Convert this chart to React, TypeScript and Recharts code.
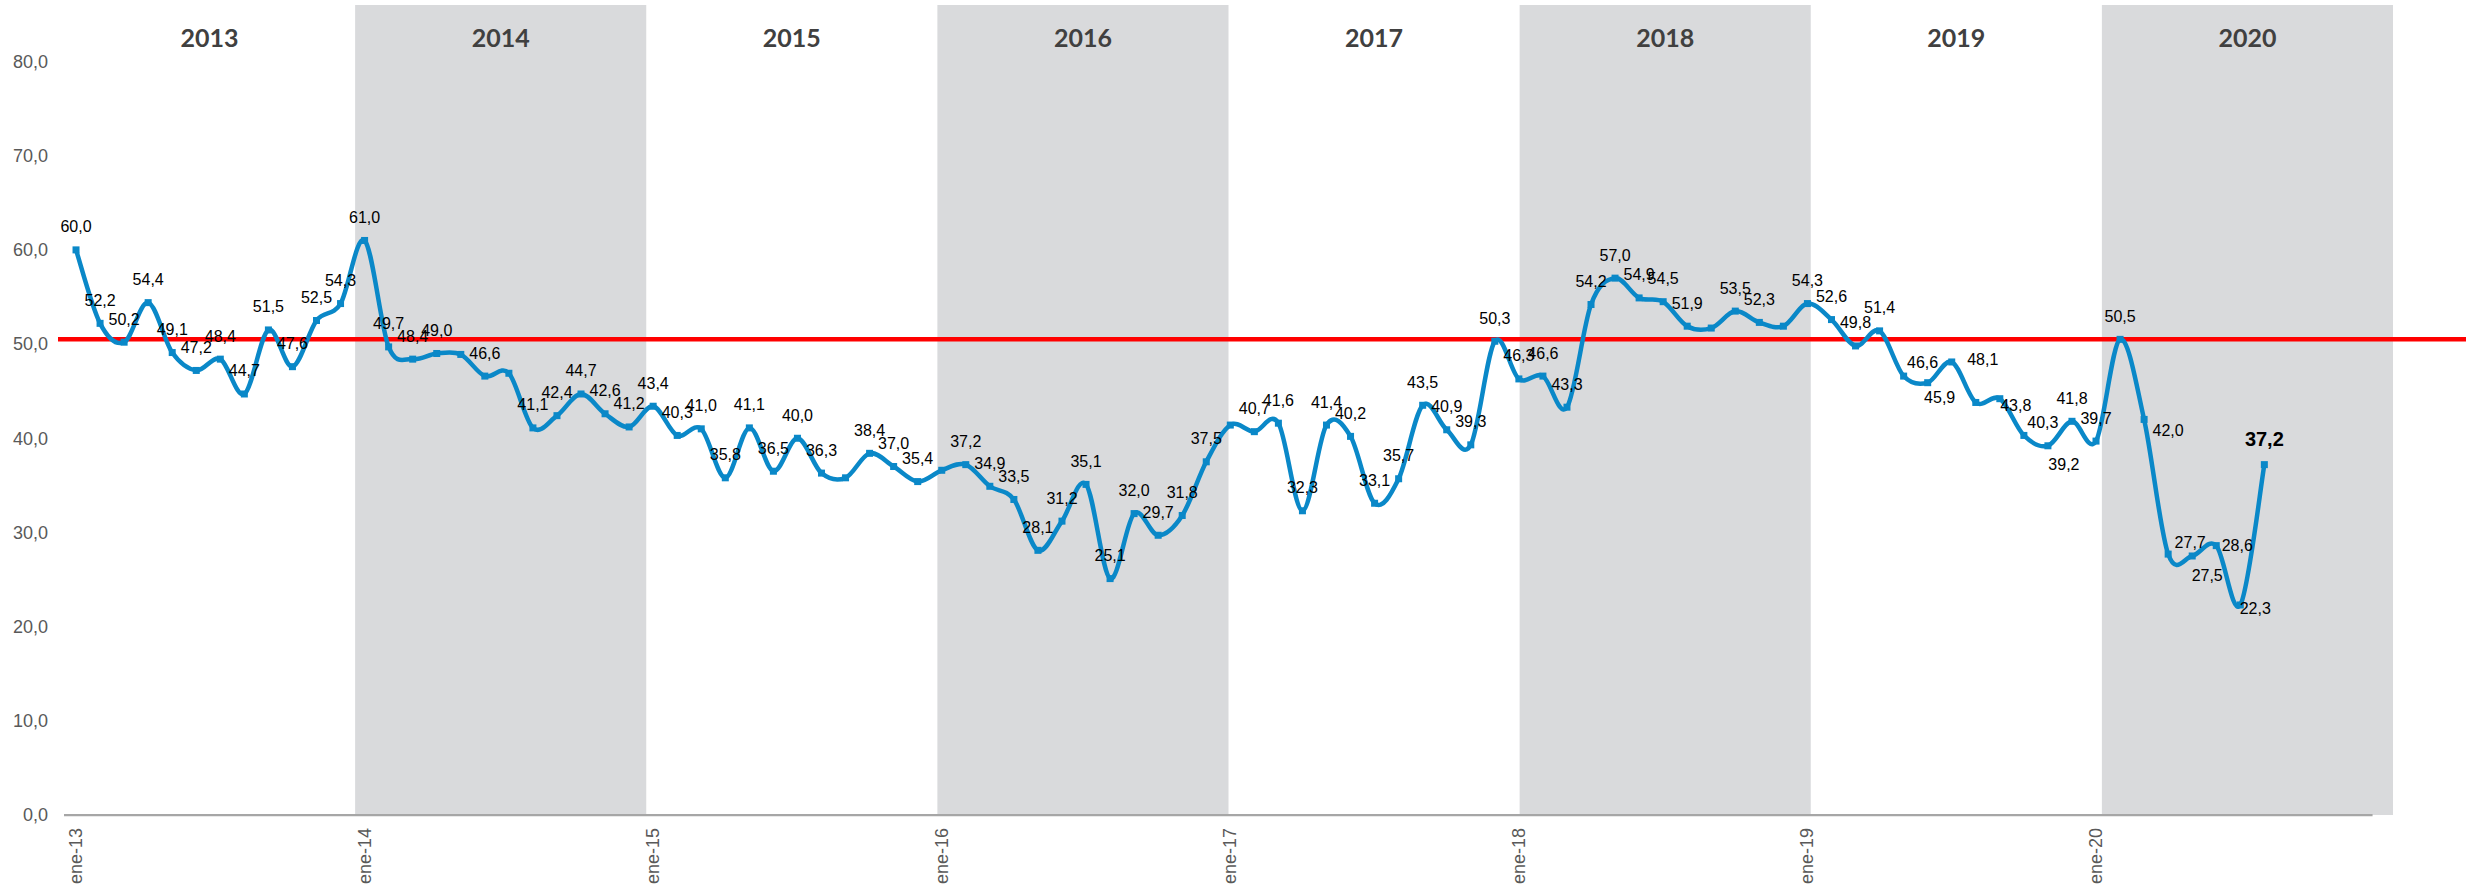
import React from 'react';
import {
  ComposedChart,
  Line,
  XAxis,
  YAxis,
  CartesianGrid,
  ReferenceArea,
  ReferenceLine,
  LabelList,
} from 'recharts';

// ---------- data ----------
const YEARS = ['2013', '2014', '2015', '2016', '2017', '2018', '2019', '2020'];
const SHADED_YEARS = ['2014', '2016', '2018', '2020'];
const MONTH_ABBR = ['ene', 'feb', 'mar', 'abr', 'may', 'jun', 'jul', 'ago', 'sep', 'oct', 'nov', 'dic'];

const V2013 = [60.0, 52.2, 50.2, 54.4, 49.1, 47.2, 48.4, 44.7, 51.5, 47.6, 52.5, 54.3];
const V2014 = [61.0, 49.7, 48.4, 49.0, 48.9, 46.6, 46.9, 41.1, 42.4, 44.7, 42.6, 41.2];
const V2015 = [43.4, 40.3, 41.0, 35.8, 41.1, 36.5, 40.0, 36.3, 35.8, 38.4, 37.0, 35.4];
const V2016 = [36.6, 37.2, 34.9, 33.5, 28.1, 31.2, 35.1, 25.1, 32.0, 29.7, 31.8, 37.5];
const V2017 = [41.4, 40.7, 41.6, 32.3, 41.4, 40.2, 33.1, 35.7, 43.5, 40.9, 39.3, 50.3];
const V2018 = [46.3, 46.6, 43.3, 54.2, 57.0, 54.9, 54.5, 51.9, 51.7, 53.5, 52.3, 51.9];
const V2019 = [54.3, 52.6, 49.8, 51.4, 46.6, 45.9, 48.1, 43.8, 44.2, 40.3, 39.2, 41.8];
const V2020 = [39.7, 50.5, 42.0, 27.7, 27.5, 28.6, 22.3, 37.2];
const VALUES_BY_YEAR = [V2013, V2014, V2015, V2016, V2017, V2018, V2019, V2020];

const UNLABELED = ['may-14', 'jul-14', 'sep-15', 'ene-16', 'ene-17', 'sep-18', 'dic-18', 'sep-19'];
const HIGHLIGHT = 'ago-20';
const THRESHOLD = 50.5;
const Y_TICKS = [0, 10, 20, 30, 40, 50, 60, 70, 80];
const X_TICK_LABELS = ['ene-13', 'ene-14', 'ene-15', 'ene-16', 'ene-17', 'ene-18', 'ene-19', 'ene-20'];

// label placement (offset of label centre from the point)
const DEFAULT_NUDGE: [number, number] = [0, -23];
const LABEL_NUDGE: Record<string, [number, number]> = {
  'may-19': [19, -14],
  'jun-19': [12, 15],
  'jul-19': [31, -2],
  'ago-19': [40, 3],
  'oct-19': [19, -13],
  'nov-19': [16, 19],
  'mar-20': [24, 11],
  'abr-20': [22, -12],
  'may-20': [15, 20],
  'jun-20': [21, 0],
  'jul-20': [15, 4],
  'ago-20': [0, -26],
};

// ---------- derived table ----------
const fmt = (v: number) => v.toFixed(1).replace('.', ',');

type Row = { idx: number; key: string; value: number; lbl: string };
const DATA: Row[] = [];
VALUES_BY_YEAR.forEach((vals, y) => {
  vals.forEach((v, m) => {
    const key = `${MONTH_ABBR[m]}-${YEARS[y].slice(2)}`;
    DATA.push({ idx: DATA.length, key, value: v, lbl: UNLABELED.includes(key) ? '' : fmt(v) });
  });
});
const X_TICKS = X_TICK_LABELS.map((k) => DATA.find((d) => d.key === k)!.idx);

// ---------- layout / style ----------
const W = 2466;
const H = 888;
const XAXIS_H = 73;
const PLOT_BOTTOM = H - XAXIS_H;
const X_DOMAIN: [number, number] = [-0.5, 96.35];
const AXIS_END = 95.5; // end of the last month slot (dic-20)
const BAND_W = (X_DOMAIN[1] - X_DOMAIN[0]) / YEARS.length;
const BLUE = '#0A88C8';
const BAND = '#D9DADC';
const FONT = "'Liberation Sans', Arial, sans-serif";

// Excel-like smoothed line (Catmull-Rom style bezier)
const excelSmooth = (context: any) => {
  let pts: [number, number][] = [];
  return {
    areaStart() {},
    areaEnd() {},
    lineStart() {
      pts = [];
    },
    point(x: number, y: number) {
      pts.push([+x, +y]);
    },
    lineEnd() {
      const n = pts.length;
      if (!n) return;
      context.moveTo(pts[0][0], pts[0][1]);
      for (let i = 0; i < n - 1; i++) {
        const p0 = pts[Math.max(i - 1, 0)];
        const p1 = pts[i];
        const p2 = pts[i + 1];
        const p3 = pts[Math.min(i + 2, n - 1)];
        context.bezierCurveTo(
          p1[0] + (p2[0] - p0[0]) / 6,
          p1[1] + (p2[1] - p0[1]) / 6,
          p2[0] - (p3[0] - p1[0]) / 6,
          p2[1] - (p3[1] - p1[1]) / 6,
          p2[0],
          p2[1]
        );
      }
    },
  };
};

const XTick = (props: any) => {
  const { x, payload } = props;
  const row = DATA[payload.value];
  const y = PLOT_BOTTOM + 13;
  return (
    <text
      x={x}
      y={y}
      transform={`rotate(-90 ${x} ${y})`}
      textAnchor="end"
      dominantBaseline="central"
      fontFamily={FONT}
      fontSize={18}
      fill="#595959"
    >
      {row ? row.key : ''}
    </text>
  );
};

const yearLabel = (year: string) => (props: any) => {
  const vb = props.viewBox || {};
  return (
    <text
      x={vb.x + vb.width / 2}
      y={vb.y + 32}
      textAnchor="middle"
      dominantBaseline="central"
      fontFamily="Lato, 'Liberation Sans', sans-serif"
      fontWeight={700}
      fontSize={25}
      fill="#404040"
    >
      {year}
    </text>
  );
};

const renderDataLabel = (props: any) => {
  const { x, y, index, value } = props;
  if (!value) return null;
  const row = DATA[index];
  const key = row ? row.key : '';
  const [dx, dy] = LABEL_NUDGE[key] || DEFAULT_NUDGE;
  const bold = key === HIGHLIGHT;
  return (
    <text
      key={`lbl-${index}`}
      x={x + dx}
      y={y + dy}
      textAnchor="middle"
      dominantBaseline="central"
      fontFamily={FONT}
      fontSize={bold ? 20 : 16}
      fontWeight={bold ? 700 : 400}
      fill="#000"
    >
      {value}
    </text>
  );
};

const SquareDot = (props: any) => {
  const { cx, cy, index } = props;
  if (cx == null || cy == null) return null;
  return <rect key={`dot-${index}`} x={cx - 3.5} y={cy - 3.5} width={7} height={7} fill={BLUE} />;
};

export default function App() {
  return (
    <div style={{ position: 'absolute', left: 0, top: 0, width: W, height: H, background: '#fff' }}>
      <ComposedChart
        width={W}
        height={H}
        data={DATA}
        margin={{ top: 5, right: 73, bottom: 0, left: 0 }}
      >
        <CartesianGrid horizontal vertical={false} syncWithTicks stroke="#D9D9D9" strokeWidth={1.75} />
        <XAxis
          xAxisId="m"
          type="number"
          dataKey="idx"
          domain={X_DOMAIN}
          ticks={X_TICKS}
          tick={<XTick />}
          tickLine={false}
          axisLine={false}
          tickSize={0}
          tickMargin={13}
          height={XAXIS_H}
          interval={0}
          allowDataOverflow
        />
        <YAxis
          yAxisId="v"
          type="number"
          domain={[0, 86]}
          ticks={Y_TICKS}
          width={64}
          tickLine={false}
          axisLine={false}
          tickSize={8}
          tickMargin={8}
          tickFormatter={(v: number) => fmt(v)}
          tick={{ fontFamily: FONT, fontSize: 18, fill: '#595959' }}
          interval={0}
          allowDataOverflow
        />
        {YEARS.map((yr, k) => (
          <ReferenceArea
            key={yr}
            xAxisId="m"
            yAxisId="v"
            x1={X_DOMAIN[0] + k * BAND_W}
            x2={X_DOMAIN[0] + (k + 1) * BAND_W}
            fill={SHADED_YEARS.includes(yr) ? BAND : '#FFFFFF'}
            fillOpacity={SHADED_YEARS.includes(yr) ? 1 : 0}
            stroke="none"
            ifOverflow="visible"
            label={yearLabel(yr)}
          />
        ))}
        <ReferenceLine
          xAxisId="m"
          yAxisId="v"
          segment={[
            { x: X_DOMAIN[0], y: 0 },
            { x: AXIS_END, y: 0 },
          ]}
          stroke="#A6A6A6"
          strokeWidth={2.25}
          ifOverflow="visible"
        />
        <ReferenceLine
          xAxisId="m"
          yAxisId="v"
          y={THRESHOLD}
          ifOverflow="visible"
          shape={(p: any) => (
            <line x1={p.x1 - 6} y1={p.y1} x2={W} y2={p.y2} stroke="#FF0000" strokeWidth={4.5} />
          )}
        />
        <Line
          xAxisId="m"
          yAxisId="v"
          dataKey="value"
          type={excelSmooth as any}
          stroke={BLUE}
          strokeWidth={4.5}
          dot={<SquareDot />}
          activeDot={false}
          isAnimationActive={false}
        >
          <LabelList dataKey="lbl" content={renderDataLabel} />
        </Line>
      </ComposedChart>
    </div>
  );
}
